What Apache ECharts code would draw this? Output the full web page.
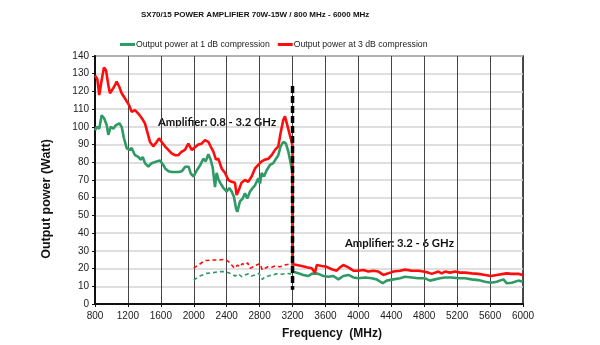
<!DOCTYPE html>
<html>
<head>
<meta charset="utf-8">
<script src="https://cdn.jsdelivr.net/npm/echarts@6/dist/echarts.min.js"></script>
<style>
  html, body { margin: 0; padding: 0; background: #fff; }
  #chart { width: 600px; height: 345px; }
</style>
</head>
<body>
<div id="chart"></div>
<script>
// Frequency (MHz) / output power (W) pairs for each trace

// 0.8 - 3.2 GHz amplifier, 3 dB compression
const red3dBLowFreq = [800, 828, 852, 881, 909, 934, 962, 982, 1003, 1031, 1063, 1096, 1124, 1165, 1185, 1217, 1245, 1286, 1326, 1367, 1407, 1436, 1468, 1508, 1549, 1578, 1610, 1650, 1691, 1731, 1772, 1812, 1853, 1893, 1934, 1975, 2015, 2055, 2096, 2136, 2177, 2210, 2238, 2270, 2298, 2339, 2380, 2420, 2460, 2500, 2521, 2553, 2580, 2622, 2662, 2703, 2744, 2784, 2825, 2865, 2906, 2946, 2987, 3027, 3055, 3088, 3108, 3136, 3161, 3190, 3200];
const red3dBLowVal  = [129, 127, 118, 126.5, 133.5, 132, 123.5, 119, 120, 122.5, 125.5, 122.5, 119, 116, 117, 112, 108.5, 109.5, 107.5, 105, 102, 97, 91.5, 89, 91.5, 93.5, 91.5, 89, 87, 85, 84, 84, 86, 87, 90.5, 87, 88.5, 90, 90.5, 92.5, 91.5, 88.5, 86, 81.5, 82, 76.5, 74, 70, 69, 68.5, 61.5, 65, 68.5, 70, 69, 72, 76.5, 78.5, 80.5, 81.5, 82, 84, 87, 89, 96.5, 104, 106, 101, 96.5, 91.5, 89];

// 3.2 - 6 GHz amplifier, 3 dB compression
const red3dBHighFreq = [3200, 3250, 3311, 3372, 3433, 3473, 3494, 3554, 3615, 3676, 3736, 3777, 3817, 3878, 3939, 4000, 4060, 4121, 4182, 4243, 4303, 4364, 4425, 4506, 4567, 4648, 4729, 4790, 4850, 4891, 4931, 4972, 5012, 5053, 5114, 5174, 5235, 5296, 5377, 5458, 5539, 5612, 5681, 5762, 5803, 5864, 5945, 6000];
const red3dBHighVal  = [22.6, 22, 21.5, 20.7, 20.2, 17.7, 22, 21.5, 21, 19.6, 18.8, 20.7, 22, 20.7, 18.8, 18.8, 19.2, 18.3, 18.8, 18.3, 16.4, 17.3, 18.3, 18.8, 19.4, 18.8, 18.8, 18.3, 17.7, 17, 17.7, 18.3, 17.3, 18.3, 17.7, 18.3, 17.7, 17.7, 17.3, 17, 16.4, 15.8, 16.4, 17, 17.3, 17, 17, 16.4];

// 0.8 - 3.2 GHz amplifier, 1 dB compression
const green1dBLowFreq = [800, 820, 852, 881, 909, 942, 962, 990, 1023, 1055, 1096, 1124, 1152, 1185, 1217, 1245, 1286, 1326, 1355, 1380, 1407, 1448, 1488, 1549, 1590, 1630, 1653, 1693, 1734, 1774, 1815, 1856, 1896, 1937, 1965, 1998, 2038, 2079, 2116, 2145, 2177, 2205, 2230, 2258, 2278, 2298, 2327, 2359, 2400, 2432, 2460, 2488, 2513, 2529, 2562, 2594, 2622, 2650, 2683, 2716, 2744, 2784, 2805, 2825, 2853, 2886, 2926, 2966, 2999, 3027, 3055, 3088, 3120, 3149, 3169, 3190, 3200];
const green1dBLowVal  = [98, 100, 99, 106.5, 105, 101, 95.5, 100, 99, 101, 102, 100, 93.5, 88, 87, 88, 84, 83, 81.5, 83, 79.5, 77.5, 79.5, 80.5, 81, 78.5, 76.5, 75, 74.5, 74.5, 74.5, 75, 77.5, 77.5, 73.5, 72, 75.5, 78.5, 82, 80.5, 84.5, 81.5, 77, 66, 74, 70.5, 68, 65.5, 63.5, 65.5, 63.5, 60.5, 54, 52, 58, 59.5, 62.5, 59.5, 63.5, 65.5, 67, 71, 68, 74, 72, 75.5, 78.5, 79.5, 82, 84, 89, 91.5, 90.5, 86, 81.5, 76.5, 75];

// 3.2 - 6 GHz amplifier, 1 dB compression
const green1dBHighFreq = [3200, 3271, 3331, 3392, 3433, 3473, 3514, 3574, 3635, 3696, 3757, 3817, 3878, 3939, 4000, 4081, 4162, 4222, 4295, 4344, 4425, 4506, 4567, 4648, 4729, 4810, 4870, 4931, 4992, 5053, 5134, 5215, 5296, 5377, 5458, 5539, 5612, 5681, 5762, 5803, 5864, 5945, 6000];
const green1dBHighVal  = [18.3, 17.3, 16.4, 15.8, 17, 17.3, 17, 15.8, 15.4, 15.8, 13.9, 15.8, 16.4, 15, 14.5, 15, 14.5, 13.9, 11.7, 13.2, 13.9, 14.5, 15.4, 15, 14.5, 14.5, 13.2, 13.9, 14.5, 15, 15, 14.5, 14.5, 13.9, 13.5, 12.6, 12, 12.6, 13.9, 11.7, 12, 13.2, 12.6];

// 3.2 - 6 GHz amplifier measured below its band (dashed)
const red3dBExtFreq = [2000, 2055, 2136, 2218, 2299, 2380, 2421, 2461, 2494, 2534, 2562, 2590, 2622, 2655, 2683, 2724, 2764, 2804, 2833, 2857, 2898, 2947, 2987, 3048, 3108, 3169, 3200];
const red3dBExtVal  = [20.2, 22, 24.5, 24.8, 24.8, 25.2, 24, 22, 20.2, 22, 21, 22.8, 22, 23.2, 20.2, 21, 22, 22.8, 19.2, 20.2, 21, 20.7, 21.5, 21, 22, 22.6, 22.6];
const green1dBExtFreq = [2000, 2075, 2157, 2238, 2319, 2380, 2441, 2502, 2542, 2583, 2622, 2663, 2703, 2744, 2792, 2833, 2865, 2906, 2955, 3007, 3068, 3128, 3181, 3200];
const green1dBExtVal  = [13.5, 15.8, 17.3, 17.7, 18.3, 18.3, 17.3, 15.8, 17, 15.4, 16.4, 17, 15.8, 16.4, 17.3, 13.9, 15.4, 15.8, 16.4, 17, 16.8, 17.3, 17, 18.3];

// Band split marker at 3200 MHz
const splitFreq = [3200, 3200];
const splitVal  = [123, 8];

const seriesNames = ['Output power at 1 dB compression', 'Output power at 3 dB compression'];
const xRange = { min: 800, max: 6000, step: 400 };
const yRange = { min: 0, max: 140, step: 10 };

const GREEN = '#2f9a66';
const RED = '#ff0d0d';

function pairs(xs, ys) { return xs.map((x, i) => [x, ys[i]]); }

const chart = echarts.init(document.getElementById('chart'), null, { renderer: 'canvas' });

chart.setOption({
  backgroundColor: '#ffffff',
  animation: false,
  textStyle: { fontFamily: 'Liberation Sans, Arial, sans-serif' },
  title: {
    text: 'SX70/15 POWER AMPLIFIER 70W-15W / 800 MHz - 6000 MHz',
    left: 136, top: 6,
    textStyle: { fontSize: 8, fontWeight: 'bold', color: '#111', fontFamily: 'Liberation Sans, Arial, sans-serif' }
  },
  legend: {
    data: seriesNames,
    left: 115, top: 35,
    icon: 'rect', itemWidth: 15, itemHeight: 3, itemGap: 8,
    textStyle: { fontSize: 8.7, color: '#222', padding: [0, 0, 0, -4] }
  },
  grid: {
    left: 95, right: 77, top: 56, bottom: 41,
    show: true, borderColor: '#111', borderWidth: 1.5
  },
  xAxis: {
    type: 'value', min: xRange.min, max: xRange.max, interval: xRange.step,
    axisLine: { lineStyle: { color: '#111', width: 2 } },
    axisTick: { show: true, length: 3, lineStyle: { color: '#111' } },
    axisLabel: { fontSize: 10, color: '#222', margin: 7, formatter: v => String(v) },
    splitLine: { show: true, lineStyle: { color: '#444', width: 1 } }
  },
  yAxis: {
    type: 'value', min: yRange.min, max: yRange.max, interval: yRange.step,
    axisLine: { show: true, lineStyle: { color: '#111', width: 2 } },
    axisTick: { show: true, length: 3, lineStyle: { color: '#111' } },
    axisLabel: { fontSize: 10, color: '#222', margin: 6, formatter: v => String(v) },
    splitLine: { show: true, lineStyle: { color: '#d4d4d4', width: 1.5 } }
  },
  graphic: [
    {
      type: 'text', x: 47, y: 199, rotation: Math.PI / 2,
      style: { text: 'Output power (Watt)', fontSize: 12.5, fontWeight: 'bold', fill: '#111',
               fontFamily: 'Liberation Sans, Arial, sans-serif', textAlign: 'center', textVerticalAlign: 'middle' }
    },
    {
      type: 'text', x: 332, y: 334,
      style: { text: 'Frequency  (MHz)', fontSize: 12, fontWeight: 'bold', fill: '#111',
               fontFamily: 'Liberation Sans, Arial, sans-serif', textAlign: 'center', textVerticalAlign: 'middle' }
    },
    {
      type: 'text', x: 158, y: 122,
      style: { text: 'Amplifier: 0.8 - 3.2 GHz', fontSize: 11.3, fontWeight: 'bold', fill: '#111',
               fontFamily: 'Lato, sans-serif', textAlign: 'left', textVerticalAlign: 'middle' }
    },
    {
      type: 'text', x: 345, y: 243,
      style: { text: 'Amplifier: 3.2 - 6 GHz', fontSize: 11.3, fontWeight: 'bold', fill: '#111',
               fontFamily: 'Lato, sans-serif', textAlign: 'left', textVerticalAlign: 'middle' }
    }
  ],
  series: [
    {
      name: seriesNames[0], type: 'line', showSymbol: false, z: 3,
      data: pairs(green1dBLowFreq, green1dBLowVal).concat(pairs(green1dBHighFreq, green1dBHighVal)),
      lineStyle: { color: GREEN, width: 2.6 }, itemStyle: { color: GREEN }
    },
    {
      name: seriesNames[1], type: 'line', showSymbol: false, z: 4,
      data: pairs(red3dBLowFreq, red3dBLowVal).concat(pairs(red3dBHighFreq, red3dBHighVal)),
      lineStyle: { color: RED, width: 2.6 }, itemStyle: { color: RED }
    },
    {
      name: 'ext1', type: 'line', showSymbol: false, z: 3,
      data: pairs(green1dBExtFreq, green1dBExtVal),
      lineStyle: { color: GREEN, width: 1.6, type: [4, 3] }
    },
    {
      name: 'ext3', type: 'line', showSymbol: false, z: 3,
      data: pairs(red3dBExtFreq, red3dBExtVal),
      lineStyle: { color: RED, width: 1.6, type: [4, 3] }
    },
    {
      name: 'split', type: 'line', showSymbol: false, z: 5,
      data: pairs(splitFreq, splitVal),
      lineStyle: { color: '#000', width: 3.5, type: [7, 3] }
    }
  ]
});
</script>
</body>
</html>
